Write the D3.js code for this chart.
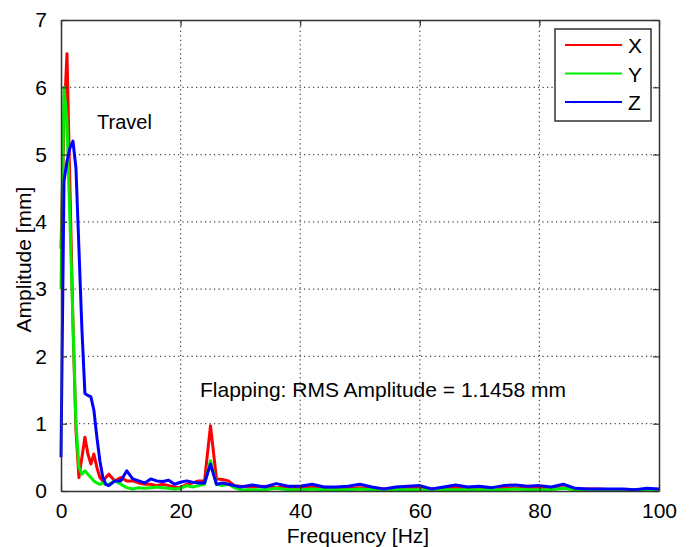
<!DOCTYPE html>
<html>
<head>
<meta charset="utf-8">
<script src="https://cdn.jsdelivr.net/npm/d3@7"></script>
<style>
  body { margin: 0; background: #fff; }
  text { font-family: "Liberation Sans", Arial, sans-serif; fill: #000; }
</style>
</head>
<body>
<div id="chart"></div>
<script>
var w = 694;
var h = 547;
var margin = {top: 20, right: 35, bottom: 56, left: 61};

// frequency axis [Hz]
var freq = [0, 0.5, 1, 1.5, 2, 2.5, 3, 3.5, 4, 4.5, 5, 5.5, 6, 6.5, 7, 7.5, 8,
            9, 10, 11, 12, 13, 14, 15, 16, 17, 18, 19, 20, 21, 22, 23, 24, 25, 26, 27, 28, 29, 30,
            32, 34, 36, 38, 40, 42, 44, 46, 48, 50, 52, 54, 56, 58, 60, 62, 64, 66, 68, 70,
            72, 74, 76, 78, 80, 82, 84, 86, 88, 90, 92, 94, 96, 98, 100];

// amplitude [mm]
var ampX = [3.6, 5.5, 6.5, 4.5, 2.5, 0.9, 0.2, 0.5, 0.8, 0.55, 0.4, 0.55, 0.35, 0.2, 0.15, 0.2, 0.25,
            0.15, 0.2, 0.15, 0.15, 0.12, 0.1, 0.1, 0.08, 0.1, 0.08, 0.06, 0.05, 0.1, 0.12, 0.15, 0.15, 0.97, 0.18, 0.17, 0.15, 0.08, 0.07,
            0.06, 0.07, 0.05, 0.06, 0.05, 0.06, 0.04, 0.05, 0.04, 0.05, 0.04, 0.03, 0.04, 0.04, 0.05, 0.03, 0.04, 0.05, 0.04, 0.03,
            0.04, 0.05, 0.04, 0.04, 0.05, 0.04, 0.05, 0.03, 0.03, 0.03, 0.02, 0.02, 0.02, 0.02, 0.02];
var ampY = [3.0, 6.0, 5.5, 4.0, 2.5, 1.0, 0.35, 0.25, 0.3, 0.25, 0.2, 0.15, 0.12, 0.1, 0.12, 0.1, 0.1,
            0.15, 0.1, 0.05, 0.03, 0.05, 0.04, 0.05, 0.06, 0.05, 0.04, 0.03, 0.04, 0.08, 0.06, 0.08, 0.1, 0.45, 0.1, 0.08, 0.1, 0.05, 0.02,
            0.02, 0.02, 0.04, 0.02, 0.02, 0.03, 0.02, 0.02, 0.02, 0.03, 0.02, 0.02, 0.02, 0.02, 0.02, 0.02, 0.02, 0.02, 0.02, 0.02,
            0.02, 0.02, 0.03, 0.02, 0.02, 0.02, 0.04, 0.02, 0.02, 0.02, 0.01, 0.01, 0.01, 0.01, 0.01];
var ampZ = [0.5, 4.6, 4.9, 5.1, 5.2, 4.8, 3.6, 2.4, 1.45, 1.42, 1.4, 1.2, 0.8, 0.45, 0.2, 0.1, 0.08,
            0.15, 0.15, 0.3, 0.18, 0.15, 0.12, 0.18, 0.15, 0.14, 0.16, 0.1, 0.13, 0.15, 0.13, 0.12, 0.12, 0.4, 0.1, 0.12, 0.1, 0.08, 0.06,
            0.09, 0.06, 0.11, 0.07, 0.07, 0.1, 0.06, 0.06, 0.07, 0.1, 0.06, 0.03, 0.06, 0.07, 0.08, 0.03, 0.06, 0.09, 0.06, 0.07,
            0.05, 0.08, 0.09, 0.07, 0.08, 0.06, 0.1, 0.04, 0.03, 0.03, 0.03, 0.03, 0.02, 0.04, 0.03];

var seriesNames = ["X", "Y", "Z"];
var seriesColors = ["#ff0000", "#00ee00", "#0000ff"];
var xTicks = [0, 20, 40, 60, 80, 100];
var yTicks = [0, 1, 2, 3, 4, 5, 6, 7];

var svg = d3.select("#chart")
            .append("svg")
            .attr("width", w)
            .attr("height", h);

var x = d3.scaleLinear().domain([0, 100]).range([margin.left, w - margin.right]);
var y = d3.scaleLinear().domain([0, 7]).range([h - margin.bottom, margin.top]);

// grid
var grid = svg.append("g").attr("class", "grid");
grid.selectAll("line.gx")
    .data(xTicks.slice(1, -1))
    .enter().append("line")
    .attr("x1", function(d){ return x(d); })
    .attr("x2", function(d){ return x(d); })
    .attr("y1", y(0)).attr("y2", y(7))
    .attr("stroke", "#444").attr("stroke-width", 1.2)
    .attr("stroke-dasharray", "1.2,3.3");
grid.selectAll("line.gy")
    .data(yTicks.slice(1, -1))
    .enter().append("line")
    .attr("y1", function(d){ return y(d); })
    .attr("y2", function(d){ return y(d); })
    .attr("x1", x(0)).attr("x2", x(100))
    .attr("stroke", "#444").attr("stroke-width", 1.2)
    .attr("stroke-dasharray", "1.2,3.3");

// lines
var series = [ampX, ampY, ampZ];
var line = d3.line()
             .x(function(d){ return x(d[0]); })
             .y(function(d){ return y(d[1]); });

series.forEach(function(s, i){
  svg.append("path")
     .datum(freq.map(function(f, j){ return [f, s[j]]; }))
     .attr("fill", "none")
     .attr("stroke", seriesColors[i])
     .attr("stroke-width", 3)
     .attr("stroke-linejoin", "round")
     .attr("d", line);
});

// axes (MATLAB style: ticks inside, box around)
var xAxis = d3.axisBottom(x).tickValues(xTicks).tickSizeInner(-6).tickSizeOuter(0).tickPadding(12).tickFormat(d3.format("d"));
var yAxis = d3.axisLeft(y).tickValues(yTicks).tickSizeInner(-6).tickSizeOuter(0).tickPadding(14).tickFormat(d3.format("d"));
var xTop = d3.axisTop(x).tickValues(xTicks).tickSizeInner(-6).tickSizeOuter(0).tickFormat("");
var yRight = d3.axisRight(y).tickValues(yTicks).tickSizeInner(-6).tickSizeOuter(0).tickFormat("");

function styleAxis(g){
  g.select(".domain").attr("stroke", "#333").attr("stroke-width", 1.5);
  g.selectAll(".tick line").attr("stroke", "#333").attr("stroke-width", 1.2);
  g.selectAll(".tick text").style("font-size", "21px").attr("fill", "#000");
}

svg.append("g").attr("transform", "translate(0," + y(0) + ")").call(xAxis).call(styleAxis);
svg.append("g").attr("transform", "translate(" + x(0) + ",0)").call(yAxis).call(styleAxis);
svg.append("g").attr("transform", "translate(0," + y(7) + ")").call(xTop).call(styleAxis);
svg.append("g").attr("transform", "translate(" + x(100) + ",0)").call(yRight).call(styleAxis);

// axis labels
svg.append("text")
   .attr("x", (x(0) + x(100)) / 2 - 2)
   .attr("y", 543)
   .attr("text-anchor", "middle")
   .style("font-size", "21px")
   .text("Frequency [Hz]");
svg.append("text")
   .attr("transform", "translate(31," + (y(3.5) + 4) + ") rotate(-90)")
   .attr("text-anchor", "middle")
   .style("font-size", "21px")
   .text("Amplitude [mm]");

// annotations
svg.append("text")
   .attr("x", 97).attr("y", 129)
   .style("font-size", "20px")
   .text("Travel");
svg.append("text")
   .attr("x", 200).attr("y", 397)
   .style("font-size", "21px")
   .text("Flapping: RMS Amplitude = 1.1458 mm");

// legend
var legend = svg.append("g").attr("class", "legend");
legend.append("rect")
      .attr("x", 555).attr("y", 29)
      .attr("width", 96).attr("height", 92)
      .attr("fill", "#fff")
      .attr("stroke", "#333").attr("stroke-width", 1.5);
seriesNames.forEach(function(n, i){
  var ly = 45 + i * 28.5;
  legend.append("line")
        .attr("x1", 565).attr("x2", 622)
        .attr("y1", ly).attr("y2", ly)
        .attr("stroke", seriesColors[i]).attr("stroke-width", 2);
  legend.append("text")
        .attr("x", 628).attr("y", ly + 8)
        .style("font-size", "21px")
        .text(n);
});
</script>
</body>
</html>
